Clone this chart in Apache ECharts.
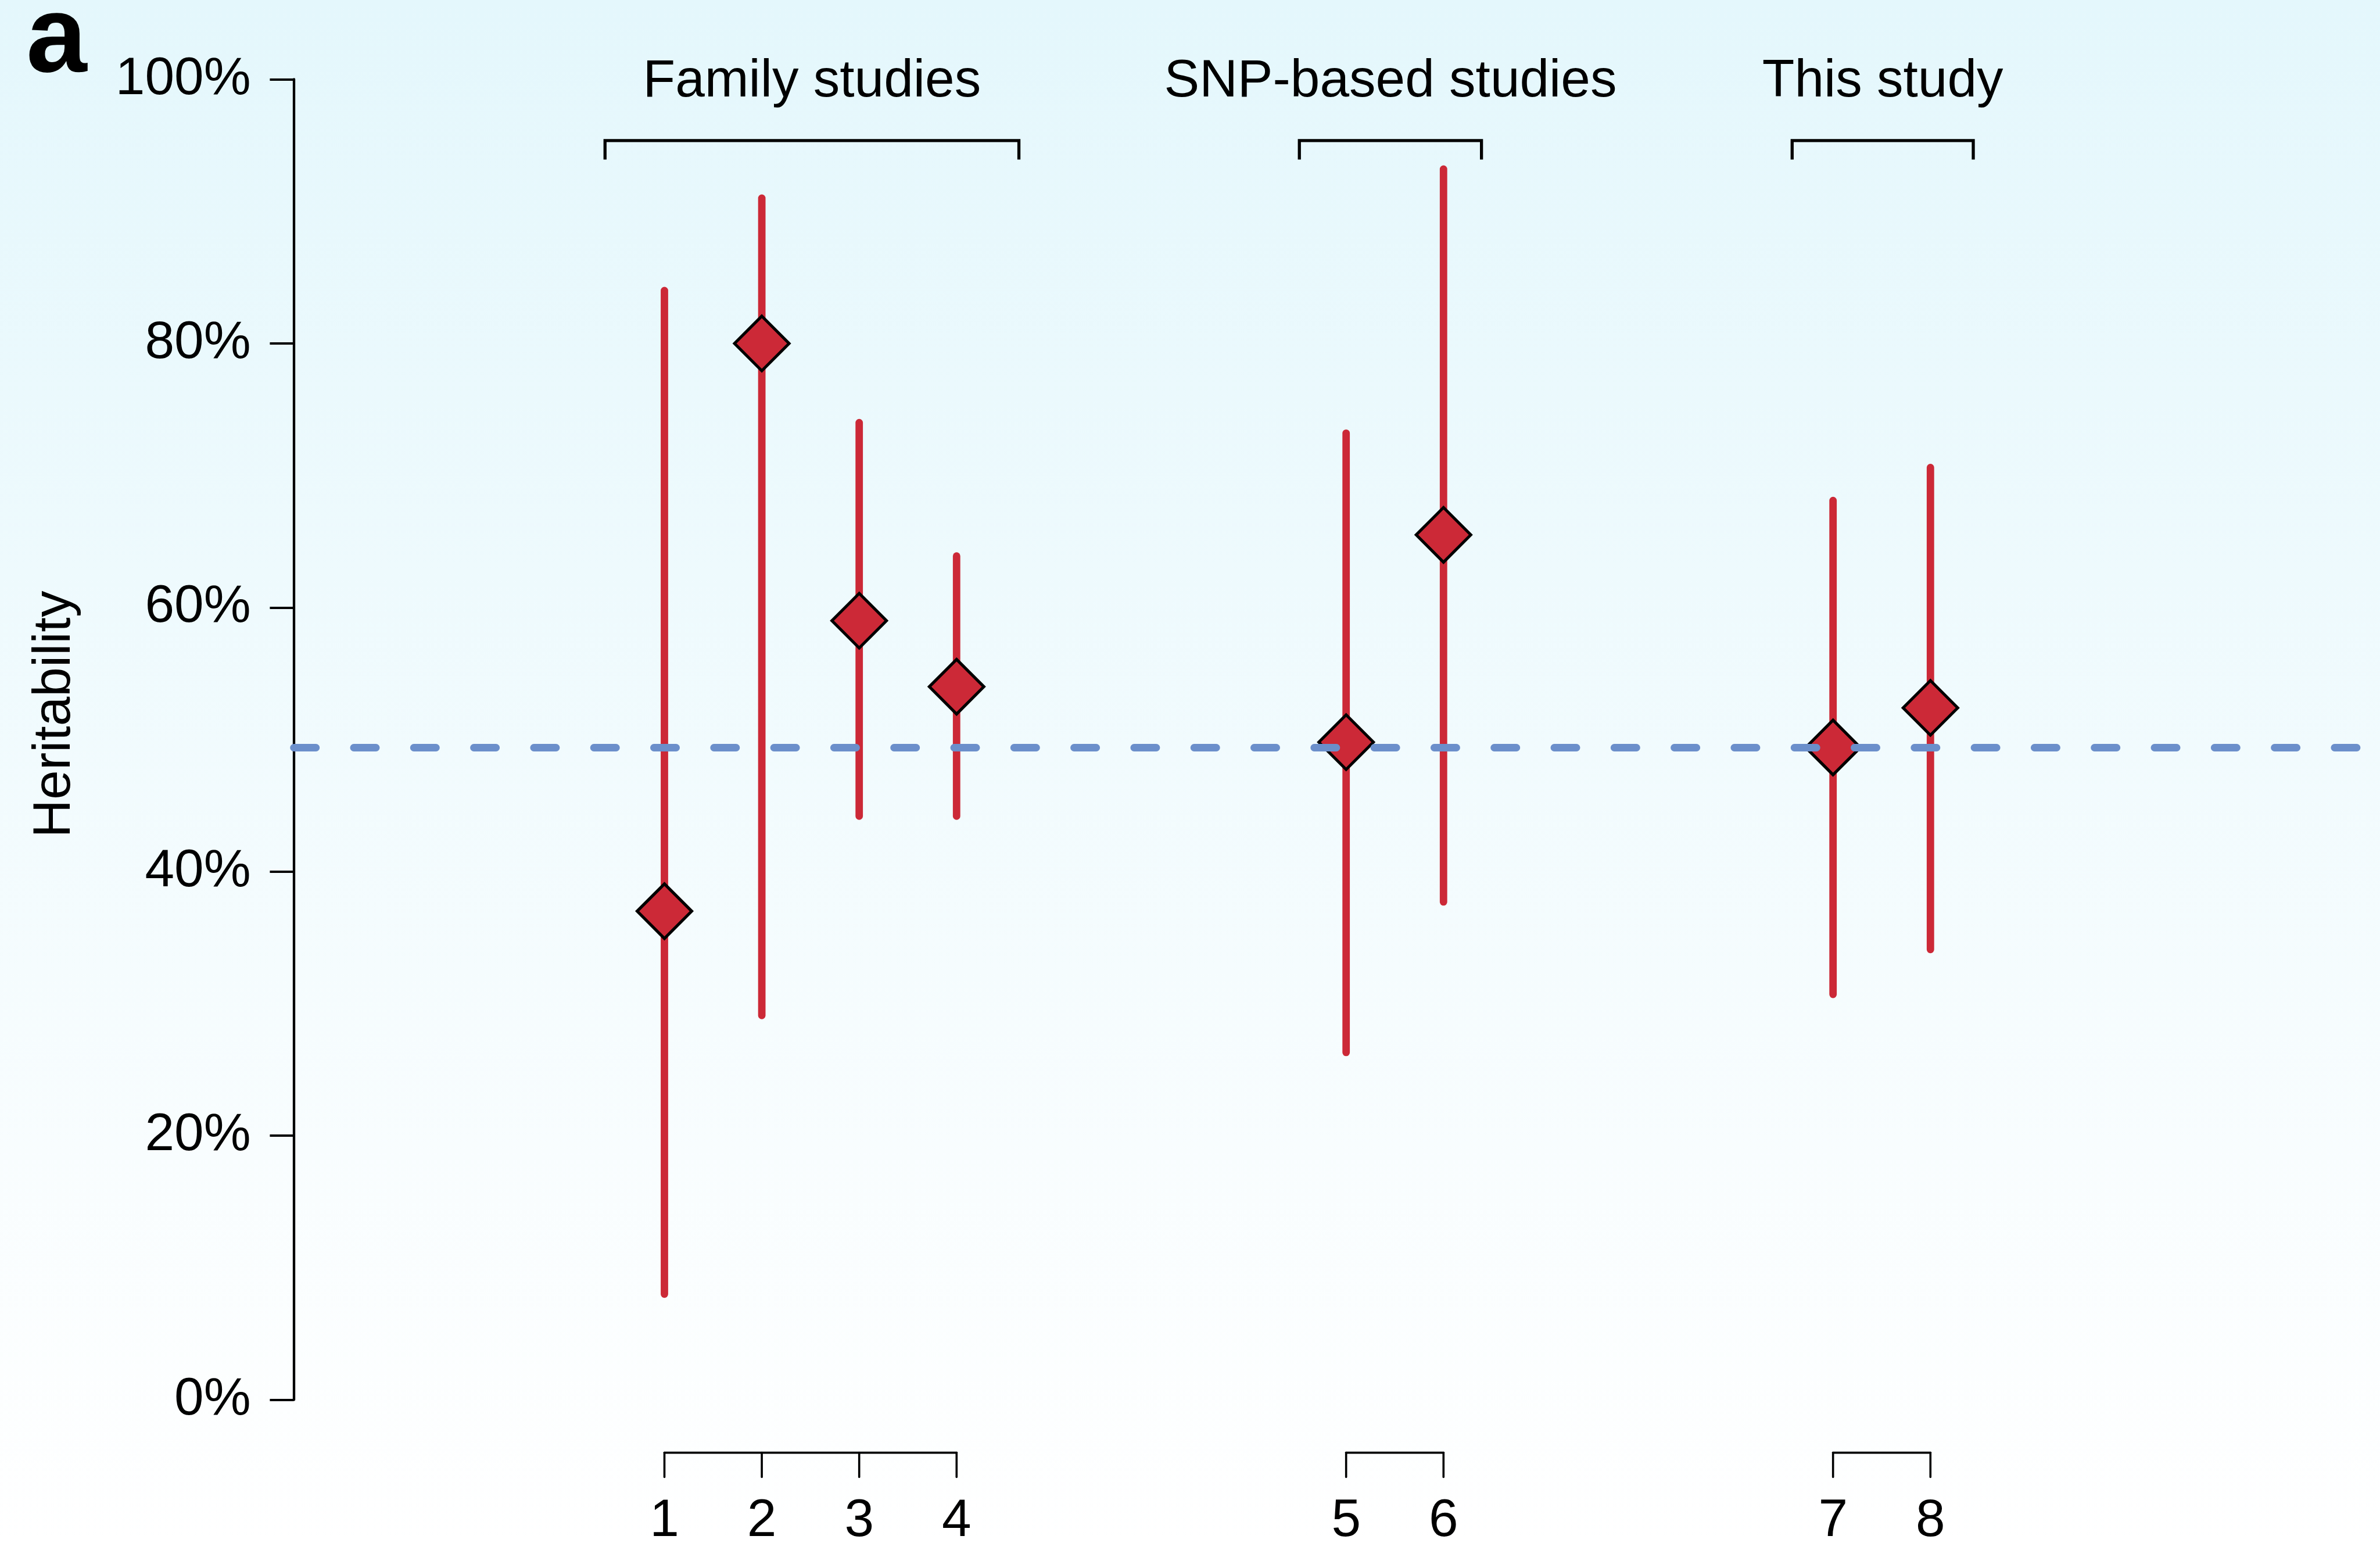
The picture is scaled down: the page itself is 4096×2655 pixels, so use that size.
<!DOCTYPE html>
<html>
<head>
<meta charset="utf-8">
<script src="https://cdn.jsdelivr.net/npm/echarts@6/dist/echarts.min.js"></script>
<style>
  html, body { margin: 0; padding: 0; background: #ffffff; }
  #chart { width: 4096px; height: 2655px; }
</style>
</head>
<body>
<div id="chart"></div>
<script>
// ---------------- data ----------------
const studyLabels = ['1', '2', '3', '4', '5', '6', '7', '8'];
const studyPositions = [1, 2, 3, 4, 8, 9, 13, 14];
const estimates = [37.0, 80.0, 59.0, 54.0, 49.8, 65.5, 49.4, 52.4];
const ciLower = [8.0, 29.1, 44.2, 44.2, 26.3, 37.7, 30.7, 34.1];
const ciUpper = [84.0, 91.0, 74.0, 63.9, 73.2, 93.2, 68.1, 70.6];
const studyGroup = [0, 0, 0, 0, 1, 1, 2, 2];
const groupNames = ['Family studies', 'SNP-based studies', 'This study'];
const groupFrom = [0.39, 7.52, 12.58];
const groupTo = [4.64, 9.39, 14.44];
const referenceLine = 49.4;
const yTickValues = [0, 20, 40, 60, 80, 100];

// ---------------- styling ----------------
const FONT = '"Liberation Sans", Arial, Helvetica, sans-serif';
const RED = '#CC2937';
const BLUE = '#6B8FCB';
const FS = 91;

const chart = echarts.init(document.getElementById('chart'), null, { renderer: 'canvas' });

function bottomBrackets(params, api) {
  const g = params.dataIndex;
  const members = [];
  studyPositions.forEach((p, i) => { if (studyGroup[i] === g) members.push(i); });
  const y0 = api.coord([0, 0])[1];
  const yLine = y0 + 91.1;
  const yTickEnd = y0 + 133;
  const yText = y0 + 209;
  const children = [];
  const xs = members.map(i => api.coord([studyPositions[i], 0])[0]);
  children.push({
    type: 'line',
    shape: { x1: xs[0], y1: yLine, x2: xs[xs.length - 1], y2: yLine },
    style: { stroke: '#000', lineWidth: 3.8, lineCap: 'round' }
  });
  members.forEach((i, k) => {
    children.push({
      type: 'line',
      shape: { x1: xs[k], y1: yLine, x2: xs[k], y2: yTickEnd },
      style: { stroke: '#000', lineWidth: 3.6, lineCap: 'round' }
    });
    children.push({
      type: 'text',
      style: {
        text: studyLabels[i], x: xs[k], y: yText,
        align: 'center', verticalAlign: 'middle',
        font: FS + 'px ' + FONT, fill: '#000'
      }
    });
  });
  return { type: 'group', children: children };
}

function topBrackets(params, api) {
  const g = params.dataIndex;
  const y100 = api.coord([0, 100])[1];
  const xa = api.coord([groupFrom[g], 100])[0];
  const xb = api.coord([groupTo[g], 100])[0];
  const yLine = y100 + 105.3;
  const yTickEnd = y100 + 138;
  return {
    type: 'group',
    children: [
      {
        type: 'polyline',
        shape: { points: [[xa, yTickEnd], [xa, yLine], [xb, yLine], [xb, yTickEnd]] },
        style: { stroke: '#000', lineWidth: 5.3, fill: null, lineJoin: 'miter', lineCap: 'butt' }
      },
      {
        type: 'text',
        style: {
          text: groupNames[g], x: (xa + xb) / 2, y: y100 + 4.8,
          align: 'center', verticalAlign: 'middle',
          font: FS + 'px ' + FONT, fill: '#000'
        }
      }
    ]
  };
}

const option = {
  animation: false,
  backgroundColor: {
    type: 'linear', x: 0, y: 0, x2: 0, y2: 1,
    colorStops: [
      { offset: 0, color: '#E4F7FC' },
      { offset: 1, color: '#FFFFFF' }
    ]
  },
  grid: { left: 505.6, right: 16, top: 136.5, bottom: 246.5, containLabel: false },
  xAxis: {
    type: 'value', min: -2.806, max: 18.521, show: false
  },
  yAxis: {
    type: 'value',
    min: yTickValues[0],
    max: yTickValues[yTickValues.length - 1],
    interval: yTickValues[1] - yTickValues[0],
    axisLine: { show: true, onZero: false, lineStyle: { color: '#000', width: 4.3 } },
    axisTick: { show: true, inside: false, length: 41.2, lineStyle: { color: '#000', width: 3.8 } },
    axisLabel: {
      show: true, formatter: '{value}%', margin: 74, color: '#000',
      fontSize: FS, fontFamily: FONT, padding: [0, 0, 15, 0]
    },
    splitLine: { show: false }
  },
  graphic: [
    {
      type: 'text', x: 45, y: 71.5,
      style: { text: 'a', font: 'bold 188px ' + FONT, fill: '#000', align: 'left', verticalAlign: 'middle' }
    },
    {
      type: 'text', x: 95, y: 1229, rotation: Math.PI / 2,
      style: { text: 'Heritability', font: FS + 'px ' + FONT, fill: '#000', align: 'center', verticalAlign: 'middle' }
    }
  ],
  series: [
    {
      type: 'custom', name: 'CI', z: 2, silent: true,
      renderItem: function (params, api) {
        const x = api.value(0);
        const p1 = api.coord([x, api.value(1)]);
        const p2 = api.coord([x, api.value(2)]);
        return {
          type: 'line',
          shape: { x1: p1[0], y1: p1[1], x2: p2[0], y2: p2[1] },
          style: { stroke: RED, lineWidth: 12.8, lineCap: 'round' }
        };
      },
      encode: { x: 0, y: [1, 2] },
      data: studyPositions.map((p, i) => [p, ciLower[i], ciUpper[i]])
    },
    {
      type: 'line', name: 'reference', z: 3, silent: true, data: [],
      markLine: {
        silent: true, symbol: 'none', animation: false,
        label: { show: false },
        lineStyle: { color: BLUE, width: 12.8, type: [38.2, 65.1], cap: 'round' },
        data: [{ yAxis: referenceLine }]
      }
    },
    {
      type: 'scatter', name: 'estimate', z: 4, silent: true,
      symbol: 'diamond', symbolSize: 94,
      itemStyle: { color: RED, borderColor: '#000', borderWidth: 5, opacity: 1 },
      data: studyPositions.map((p, i) => [p, estimates[i]])
    },
    {
      type: 'custom', name: 'bottomBrackets', z: 2, silent: true, clip: false,
      renderItem: bottomBrackets,
      data: groupNames.map((n, i) => [i])
    },
    {
      type: 'custom', name: 'topBrackets', z: 2, silent: true, clip: false,
      renderItem: topBrackets,
      data: groupNames.map((n, i) => [i])
    }
  ]
};

chart.setOption(option);
</script>
</body>
</html>
